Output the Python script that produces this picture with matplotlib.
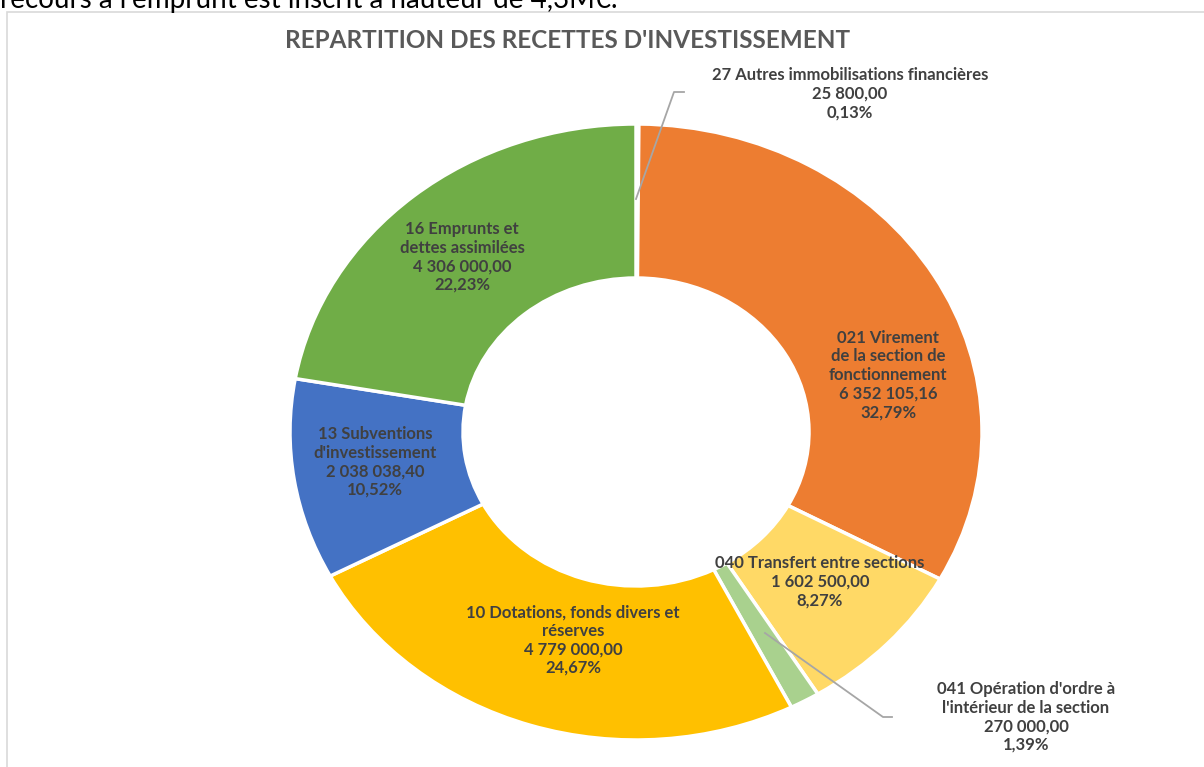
import numpy as np
import matplotlib
matplotlib.use("Agg")
import matplotlib.pyplot as plt
from matplotlib.patches import Rectangle

# donnees du graphique (ordre horaire depuis midi)
codes = ["27", "021", "040", "041", "10", "13", "16"]
libelles = [
    "27 Autres immobilisations financières",
    "021 Virement\nde la section de\nfonctionnement",
    "040 Transfert entre sections",
    "041 Opération d'ordre à\nl'intérieur de la section",
    "10 Dotations, fonds divers et\nréserves",
    "13 Subventions\nd'investissement",
    "16 Emprunts et\ndettes assimilées",
]
montants = [25800.00, 6352105.16, 1602500.00, 270000.00, 4779000.00, 2038038.40, 4306000.00]
pourcentages = ["0,13%", "32,79%", "8,27%", "1,39%", "24,67%", "10,52%", "22,23%"]
couleurs = ["#5B9BD5", "#ED7D31", "#FFD966", "#A9D18E", "#FFC000", "#4472C4", "#70AD47"]

W, H = 1204, 767
CX, CY = 636, 432      # centre de l'anneau (pixels)
RX, RY = 346, 308      # rayons exterieurs (l'image est etiree)

# position des etiquettes en pixels (centre du bloc)
pos_etiq = [(850, 94), (888, 375), (820, 582), (1026, 717), (573, 640), (375, 462), (462, 257)]

def fmt(v):
    s = f"{v:,.2f}"
    return s.replace(",", " ").replace(".", ",")

def px(x, y):
    return (x - CX) / RX, (CY - y) / RY

plt.rcParams['font.family'] = ['Lato', 'DejaVu Sans']

fig = plt.figure(figsize=(W / 100, H / 100), dpi=100)
ax = fig.add_axes([0, 0, 1, 1])

ax.pie(montants, colors=couleurs, startangle=90, counterclock=False, radius=1,
       wedgeprops=dict(width=0.5, edgecolor="white", linewidth=2.5))
ax.set_aspect("auto")
ax.set_xlim(-CX / RX, (W - CX) / RX)
ax.set_ylim(-(H - CY) / RY, CY / RY)
ax.axis("off")

# cadre du graphique
fig.patches.append(Rectangle((7 / W, -0.1), 1.2, 1 - 12 / H + 0.1, transform=fig.transFigure,
                             fill=False, edgecolor="#D9D9D9", linewidth=1.2))

# texte du document coupe en haut
fig.text(0, 1 - 8 / H, "recours à l'emprunt est inscrit à hauteur de 4,3M€.",
         fontsize=20, color="black", ha="left", va="baseline")

fig.text(568 / W, 1 - 40 / H, "REPARTITION DES RECETTES D'INVESTISSEMENT",
         fontsize=17.5, fontweight="bold", color="#595959", ha="center", va="center")

for lib, m, p, (x, y) in zip(libelles, montants, pourcentages, pos_etiq):
    ax.text(*px(x, y), f"{lib}\n{fmt(m)}\n{p}", ha="center", va="center",
            fontsize=12, fontweight="bold", color="#404040", linespacing=1.2)

# lignes de rappel
for pts in ([(636, 199), (674, 92), (684, 92)], [(765, 633), (883, 717), (892, 717)]):
    xs, ys = zip(*[px(a, b) for a, b in pts])
    ax.plot(xs, ys, color="#A6A6A6", linewidth=1.3)

fig.savefig("out.png", dpi=100)
